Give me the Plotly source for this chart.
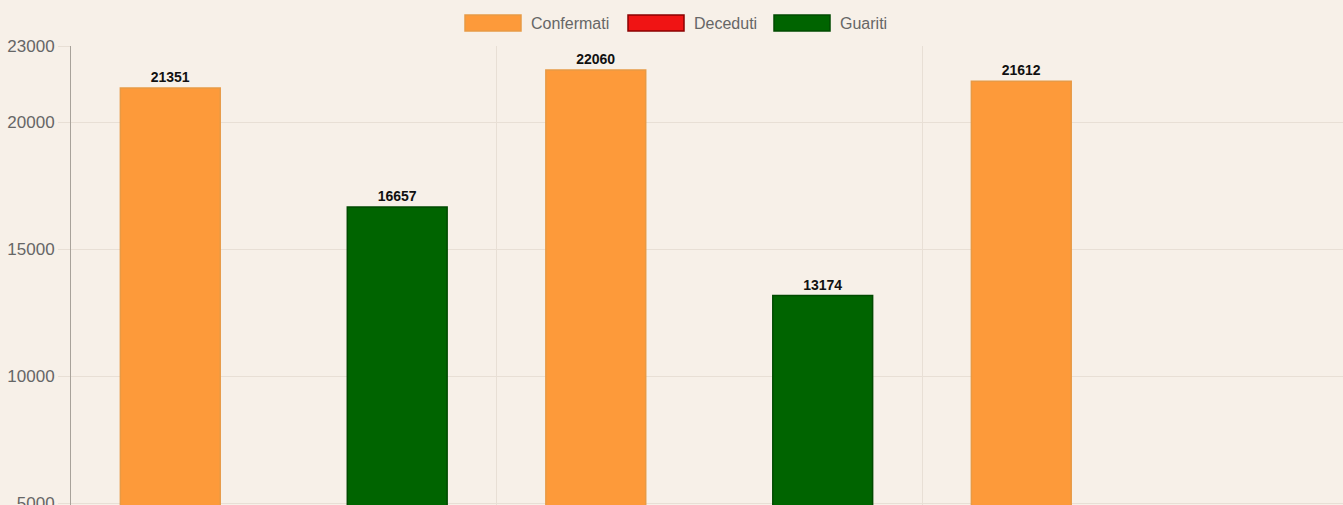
import plotly.graph_objects as go

# Data (x labels and Deceduti / third Guariti value lie below the visible area; estimated)
categories = ["Periodo 1", "Periodo 2", "Periodo 3"]
confermati = [21351, 22060, 21612]
deceduti = [2900, 3100, 3000]
guariti = [16657, 13174, 0]

series_names = ["Confermati", "Deceduti", "Guariti"]
fill_colors = ["#FD9A3A", "#F01414", "#006400"]
line_colors = ["#E89A45", "#8B0000", "#004A00"]
y_ticks = [5000, 10000, 15000, 20000, 23000]

BG = "#F7F0E8"
GRID = "#E8DFD5"
W, H = 1343, 600
L, T = 71, 46
plot_w = W - L
plot_h = H - T

# y scale: 5000 units = 127 px; plot spans page px 46 .. H
y_min = 23000 - (H - 46) * 5000 / 127
x_max = -0.5 + plot_w / 425.5

fig = go.Figure()
for name, vals, fc, lc in zip(series_names, [confermati, deceduti, guariti], fill_colors, line_colors):
    fig.add_trace(go.Bar(
        x=categories, y=vals, name=name,
        marker=dict(color=fc, line=dict(color=lc, width=1.5)),
        text=[str(v) for v in vals], textposition="outside",
        textfont=dict(family="Liberation Sans, Arial", size=14, color="#111111", weight="bold"),
        cliponaxis=False, showlegend=False,
    ))

fig.update_layout(
    width=W, height=H,
    margin=dict(l=L, r=0, t=T, b=0, pad=0),
    paper_bgcolor=BG, plot_bgcolor=BG,
    barmode="group", bargap=0.2, bargroupgap=0.12,
    font=dict(family="Liberation Sans, Arial", color="#666666"),
)
fig.update_xaxes(
    range=[-0.5, x_max], showgrid=True, gridcolor=GRID, gridwidth=1,
    tickson="boundaries", showline=False, showticklabels=False, zeroline=False,
)
fig.update_yaxes(
    range=[y_min, 23000], tickvals=y_ticks, ticktext=[str(v) for v in y_ticks],
    showgrid=True, gridcolor=GRID, gridwidth=1, zeroline=False,
    showline=True, linecolor="#A8A29A", linewidth=1,
    ticks="outside", ticklen=12, tickcolor=GRID,
    tickfont=dict(size=17, color="#666666"),
)

# Chart.js-style legend with wide swatches (page pixel positions)
def px_x(p):
    return (p - L) / plot_w

def px_y(p):
    return 1 + (T - p) / plot_h

legend_swatch_x = [465, 628, 774]
legend_text_x = [529, 692, 838]
for name, fc, lc, sx, tx in zip(series_names, fill_colors, line_colors, legend_swatch_x, legend_text_x):
    fig.add_shape(type="rect", xref="paper", yref="paper",
                  x0=px_x(sx), x1=px_x(sx + 56), y0=px_y(31), y1=px_y(15),
                  fillcolor=fc, line=dict(color=lc, width=1.5))
    fig.add_annotation(xref="paper", yref="paper", x=px_x(tx), y=px_y(23),
                       xanchor="left", yanchor="middle", text=name, showarrow=False,
                       font=dict(size=16, color="#666666"))

page_style = ("document.body.style.margin='0';"
              "document.body.style.background='" + BG + "';"
              "document.documentElement.style.background='" + BG + "';"
              "document.body.style.overflow='hidden';")
fig.write_html("out.html", post_script=page_style, config={"displayModeBar": False})
